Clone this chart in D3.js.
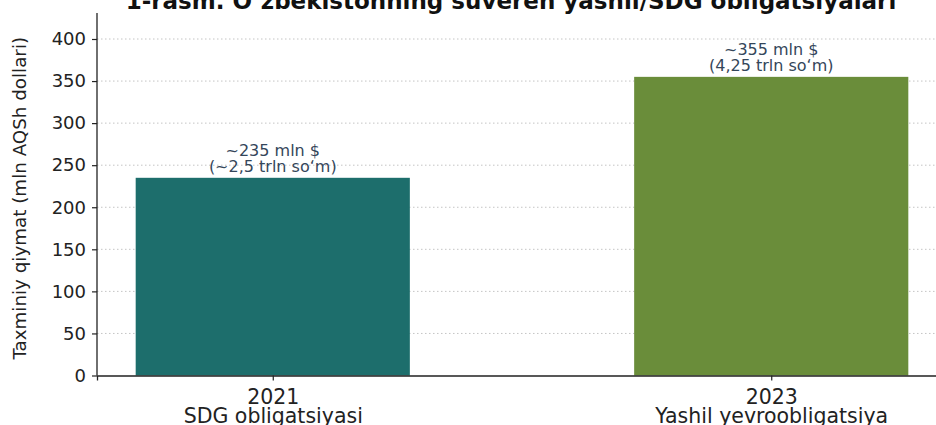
<!DOCTYPE html>
<html><head><meta charset="utf-8">
<script src="https://cdn.jsdelivr.net/npm/d3@7"></script>
<style>
html,body{margin:0;padding:0;background:#fff;overflow:hidden}
text{font-family:"DejaVu Sans",sans-serif}
</style></head>
<body><svg id="c" width="936" height="425"></svg>
<script>
const title = "1-rasm. O‘zbekistonning suveren yashil/SDG obligatsiyalari";
const years = ["2021", "2023"];
const bondTypes = ["SDG obligatsiyasi", "Yashil yevroobligatsiya"];
const values = [235, 355];
const usdLabels = ["~235 mln $", "~355 mln $"];
const somLabels = ["(~2,5 trln so‘m)", "(4,25 trln so‘m)"];
const barColors = ["#1d6e6c", "#6a8d3a"];
const yTicks = [0, 50, 100, 150, 200, 250, 300, 350, 400];
const yLabel = "Taxminiy qiymat (mln AQSh dollari)";

(function () {
const svg = d3.select("#c");
const pLeft = 97, pRight = 947, pTop = 13, pBottom = 375.5;
const y = d3.scaleLinear().domain([0, 400]).range([pBottom, 39]);
const x = d3.scalePoint().domain(years).range([pLeft, pRight]).padding(0.3526);
const bw = x.step() * 0.55;

// grid
svg.append("g").selectAll("line").data(yTicks.slice(1)).join("line")
  .attr("x1", pLeft).attr("x2", pRight)
  .attr("y1", d => y(d)).attr("y2", d => y(d))
  .attr("stroke", "#c4c4c4").attr("stroke-width", 1).attr("stroke-dasharray", "1.5,2.5");

// bars
svg.append("g").selectAll("rect").data(values).join("rect")
  .attr("x", (d, i) => x(years[i]) - bw / 2)
  .attr("width", bw)
  .attr("y", d => y(d))
  .attr("height", d => y(0) - y(d))
  .attr("fill", (d, i) => barColors[i]);

// annotations
const ann = svg.append("g").attr("fill", "#34465a").attr("font-size", 16).attr("text-anchor", "middle");
values.forEach((v, i) => {
  ann.append("text").attr("x", x(years[i])).attr("y", y(v) - 22).text(usdLabels[i]);
  ann.append("text").attr("x", x(years[i])).attr("y", y(v) - 6).text(somLabels[i]);
});

// y axis
const ya = svg.append("g").attr("transform", `translate(${pLeft},0)`)
  .call(d3.axisLeft(y).tickValues(yTicks).tickSize(5).tickPadding(6));
ya.select(".domain").attr("d", `M0,${pTop}V${pBottom}`);

// x axis
const xa = svg.append("g").attr("transform", `translate(0,${pBottom})`)
  .call(d3.axisBottom(x).tickSize(5).tickPadding(4).tickFormat(() => ""));
xa.selectAll(".tick text").attr("dy", null).attr("y", 0).each(function (d, i) {
  const t = d3.select(this);
  t.append("tspan").attr("x", 0).attr("y", 28.5).text(years[i]);
  t.append("tspan").attr("x", 0).attr("y", 47.5).text(bondTypes[i]);
});
[ya, xa].forEach(a => {
  a.selectAll(".domain").attr("stroke", "#222").attr("stroke-width", 1.3);
  a.selectAll(".tick line").attr("stroke", "#222").attr("stroke-width", 1.2);
  a.selectAll("text").attr("fill", "#222").attr("font-family", "DejaVu Sans");
});
ya.selectAll("text").attr("font-size", 18);
xa.selectAll("text").attr("font-size", 20.5);

// y label
svg.append("text").attr("transform", `translate(26,${(pTop + pBottom) / 2 + 4}) rotate(-90)`)
  .attr("text-anchor", "middle").attr("font-size", 18.3).attr("fill", "#222").text(yLabel);

// title
svg.append("text").attr("x", 511).attr("y", 8.5).attr("text-anchor", "middle")
  .attr("font-size", 23).attr("font-weight", "bold").attr("fill", "#111").text(title);
})();
</script></body></html>
